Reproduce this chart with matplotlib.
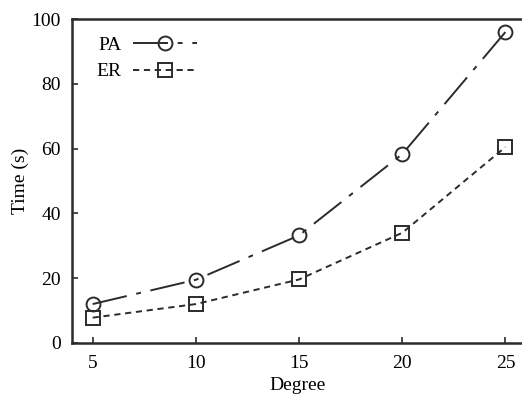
import matplotlib
matplotlib.use("Agg")
import matplotlib.pyplot as plt

degree = [5, 10, 15, 20, 25]
pa_time = [12.0, 19.5, 33.2, 58.3, 96.0]
er_time = [7.8, 12.0, 19.6, 34.0, 60.5]
xticks = [5, 10, 15, 20, 25]
yticks = [0, 20, 40, 60, 80, 100]

plt.rcParams['font.family'] = ['Liberation Serif', 'DejaVu Serif']
plt.rcParams['font.size'] = 14

col = '#2b2b2b'
fig = plt.figure(figsize=(5.22, 3.96), dpi=100)
ax = fig.add_axes([0.138, 0.134, 0.862, 0.818])

ax.plot(degree, pa_time, color=col, lw=1.4, dashes=[18, 5, 2.5, 5],
        marker='o', ms=10, mfc='none', mec=col, mew=1.4, label='PA')
ax.plot(degree, er_time, color=col, lw=1.4, dashes=[3.2, 2.4],
        marker='s', ms=10, mfc='none', mec=col, mew=1.4, label='ER')

ax.set_xlim(4, 25.8)
ax.set_ylim(0, 100)
ax.set_xticks(xticks)
ax.set_yticks(yticks)
ax.tick_params(direction='in', length=4, width=1.2, colors=col, labelcolor='black')
ax.tick_params(axis='x', pad=9, top=False)
ax.tick_params(axis='y', pad=8, right=False)
for s in ['left', 'bottom', 'top']:
    ax.spines[s].set_linewidth(1.8)
    ax.spines[s].set_color(col)
ax.spines['right'].set_visible(False)

ax.set_xlabel('Degree', labelpad=3)
ax.set_ylabel('Time (s)', labelpad=2)

ax.legend(loc='upper left', frameon=False, markerfirst=False, handlelength=3.3,
          bbox_to_anchor=(0.015, 1.0), handletextpad=0.6, labelspacing=0.45)

fig.savefig('out.png', dpi=100)
